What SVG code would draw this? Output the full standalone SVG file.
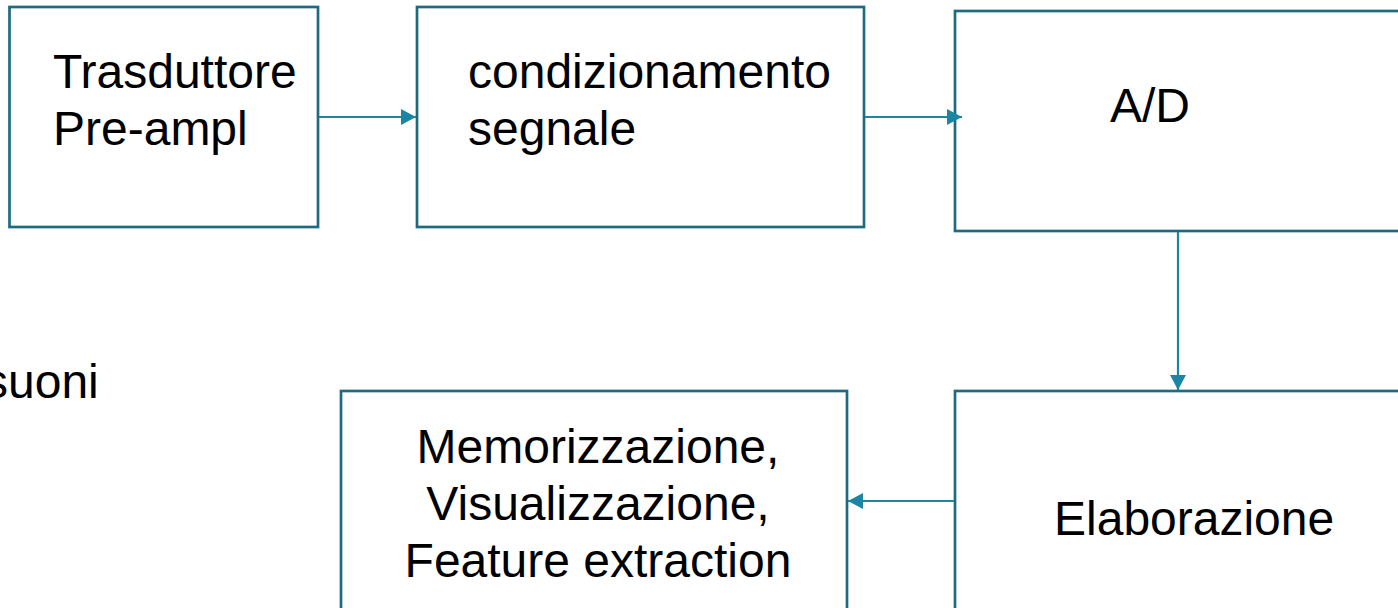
<svg xmlns="http://www.w3.org/2000/svg" width="1398" height="608" viewBox="0 0 1398 608">
<style>
.box{fill:#ffffff;stroke:#1e6a80;stroke-width:2.7}
.lbl{font-family:"Liberation Sans",Arial,sans-serif;font-size:48px;fill:#000000}
.conn{stroke:#1a86a4;stroke-width:2.2;fill:none}
</style>
<defs>
<marker id="ah" markerWidth="16" markerHeight="16" viewBox="0 0 16 16" refX="15" refY="8" orient="auto" markerUnits="userSpaceOnUse">
<path d="M0,0 L15,8 L0,16 Z" fill="#1a86a4"/>
</marker>
</defs>
<rect width="1398" height="608" fill="#ffffff"/>
<text class="lbl" x="-16" y="398">suoni</text>
<g id="n1">
<rect class="box" x="9.5" y="7" width="308.5" height="220"/>
<text class="lbl" x="53" y="88">Trasduttore</text>
<text class="lbl" x="53" y="145">Pre-ampl</text>
</g>
<g id="n2">
<rect class="box" x="417" y="7" width="447" height="220"/>
<text class="lbl" x="468" y="88">condizionamento</text>
<text class="lbl" x="468" y="145">segnale</text>
</g>
<g id="n3">
<rect class="box" x="955" y="11" width="600" height="220"/>
<text class="lbl" x="1110" y="122">A/D</text>
</g>
<g id="n4">
<rect class="box" x="955" y="391" width="600" height="300"/>
<text class="lbl" x="1054" y="535">Elaborazione</text>
</g>
<g id="n5">
<rect class="box" x="341" y="391" width="506" height="300"/>
<text class="lbl" x="598" y="463" text-anchor="middle">Memorizzazione,</text>
<text class="lbl" x="598" y="520" text-anchor="middle">Visualizzazione,</text>
<text class="lbl" x="598" y="577" text-anchor="middle">Feature extraction</text>
</g>
<g id="connectors">
<line class="conn" x1="319" y1="117" x2="416" y2="117" marker-end="url(#ah)"/>
<line class="conn" x1="865" y1="117" x2="962" y2="117" marker-end="url(#ah)"/>
<line class="conn" x1="1178" y1="232" x2="1178" y2="390" marker-end="url(#ah)"/>
<line class="conn" x1="954" y1="501" x2="848" y2="501" marker-end="url(#ah)"/>
</g>
</svg>
